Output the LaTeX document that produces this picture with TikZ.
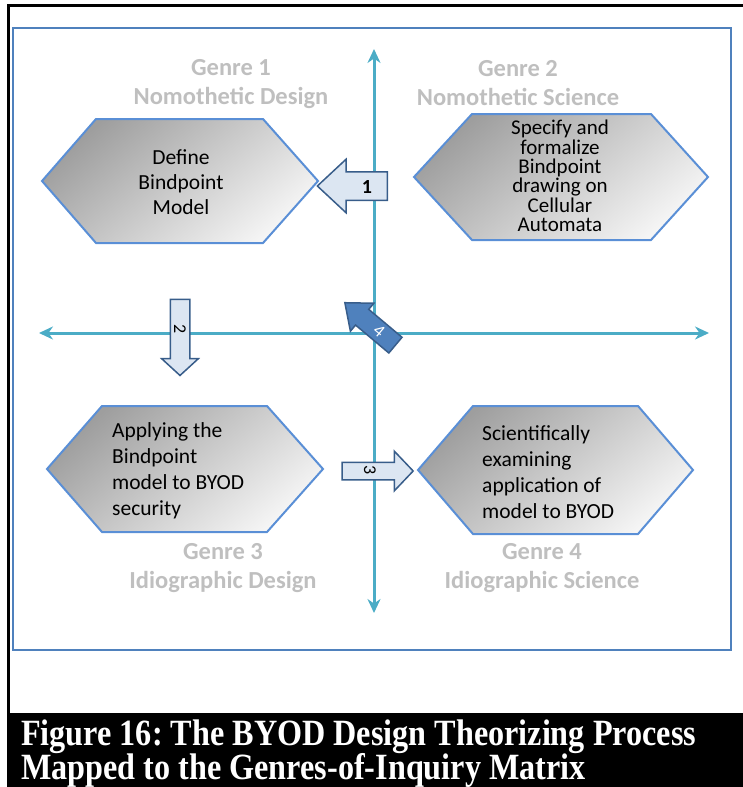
\documentclass[tikz,border=0pt]{standalone}
\usepackage{fontspec}
\setmainfont{Liberation Serif}
\newfontfamily\calibri{Carlito}
\usetikzlibrary{arrows.meta,shapes.arrows}
\frenchspacing

\definecolor{axisteal}{HTML}{4BACC6}
\definecolor{hexblue}{HTML}{5A8FD6}
\definecolor{frameblue}{HTML}{4F81BD}
\definecolor{arrowfill}{HTML}{DCE6F2}
\definecolor{arrowborder}{HTML}{385D8A}
\definecolor{darkarrow}{HTML}{4F81BD}
\definecolor{genregray}{HTML}{BFBFBF}

\tikzset{
  axis/.style={axisteal, line width=3pt, <->},
  hexagon/.style={draw=hexblue, line width=2pt, top color=black!38, bottom color=black!4, shading angle=40},
  hextext/.style={inner sep=0pt, align=center, font=\calibri\fontsize{21.5}{25}\selectfont},
  genre/.style={inner sep=0pt, align=center, text=genregray, font=\calibri\bfseries\fontsize{24.5}{29}\selectfont},
  blockarrow/.style={single arrow, draw=arrowborder, fill=arrowfill, line width=1.5pt, inner xsep=0pt, single arrow head indent=0pt},
  numlabel/.style={inner sep=0pt, font=\calibri\fontsize{18}{18}\selectfont},
  caption/.style={inner sep=0pt, text=white, font=\bfseries\fontsize{32.2}{38}\selectfont}
}

\begin{document}
\begin{tikzpicture}[x=1pt, y=-1pt, >={Stealth[length=14pt,width=13pt]}]
\useasboundingbox (0,0) rectangle (743,787);
% page frame and caption bar
\fill[black] (7,4) rectangle (743,7);
\fill[black] (7,4) rectangle (10,713);
\fill[black] (7,713) rectangle (743,787);
\draw[frameblue, line width=1.5pt] (13,28) rectangle (731,650);

% axes
\coordinate (ytop) at (374,49);
\coordinate (ybot) at (374,613);
\coordinate (xleft) at (39,333);
\coordinate (xright) at (709,333);
\draw[axis] (ybot) -- (ytop);
\draw[axis] (xleft) -- (xright);

% hexagons
\shadedraw[hexagon] (42,181) -- (96,119) -- (263,119) -- (318,181) -- (263,243) -- (96,243) -- cycle;
\shadedraw[hexagon] (414,177) -- (472,114) -- (651,114) -- (708,177) -- (651,240) -- (472,240) -- cycle;
\shadedraw[hexagon] (47,469) -- (102,406) -- (267,406) -- (323,469) -- (267,532) -- (102,532) -- cycle;
\shadedraw[hexagon] (418,470) -- (473,406) -- (638,406) -- (693,470) -- (638,534) -- (473,534) -- cycle;

\node[hextext] (define) at (181,182) {Define\\Bindpoint\\Model};
\node[hextext, font=\calibri\fontsize{21}{19.4}\selectfont] (specify) at (560,176) {Specify and\\formalize\\Bindpoint\\drawing on\\Cellular\\Automata};
\node[hextext, align=left, anchor=west, font=\calibri\fontsize{21.5}{26}\selectfont] (apply) at (112,471) {Applying the\\Bindpoint\\model to BYOD\\security};
\node[hextext, align=left, anchor=west, font=\calibri\fontsize{21.5}{26}\selectfont] (examine) at (482,472) {Scientifically\\examining\\application of\\model to BYOD};

% genre labels
\node[genre] (genre1) at (231,84) {Genre 1\\Nomothetic Design};
\node[genre] (genre2) at (518,83) {Genre 2\\Nomothetic Science};
\node[genre] (genre3) at (223,568) {Genre 3\\Idiographic Design};
\node[genre] (genre4) at (542,568) {Genre 4\\Idiographic Science};

% numbered block arrows
\node[blockarrow, rotate=180, inner ysep=13.5pt, minimum height=70pt, single arrow head extend=12.5pt, single arrow tip angle=86] (step1) at (360,186) {};
\node[blockarrow, rotate=-90, inner ysep=9pt, minimum height=76pt, single arrow head extend=8.5pt, single arrow tip angle=95] (step2) at (180,333) {};
\node[blockarrow, inner ysep=8pt, minimum height=71pt, single arrow head extend=11pt, single arrow tip angle=93] (step3) at (373.5,471) {};
\node[blockarrow, fill=darkarrow, rotate=140, inner ysep=9.5pt, minimum height=66pt, single arrow head extend=8pt, single arrow tip angle=78] (step4) at (375,328) {};

\node[numlabel, font=\calibri\bfseries\fontsize{20}{20}\selectfont] (num1) at (367,187) {1};
\node[numlabel, rotate=-90] (num2) at (180,329) {2};
\node[numlabel, rotate=-90] (num3) at (370,470) {3};
\node[numlabel, rotate=-40, text=white] (num4) at (379,331) {4};

% caption
\node[caption, anchor=base west] (cap1) at (21,745) {\scalebox{1}[1.15]{Figure 16: The BYOD Design Theorizing Process}};
\node[caption, anchor=base west] (cap2) at (21,779) {\scalebox{1}[1.15]{Mapped to the Genres-of-Inquiry Matrix}};
\end{tikzpicture}
\end{document}
